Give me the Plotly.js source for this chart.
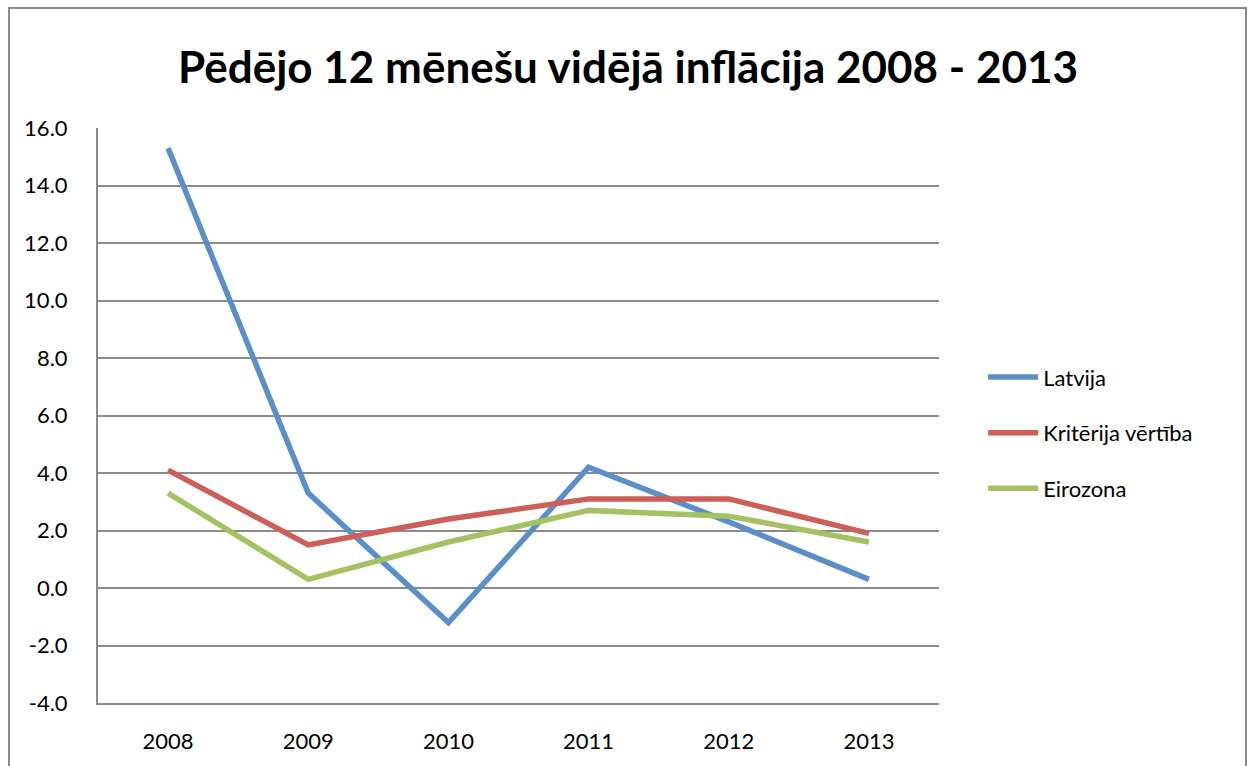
<!DOCTYPE html>
<html>
<head>
<meta charset="utf-8">
<script src="https://cdn.plot.ly/plotly-3.0.1.min.js"></script>
<style>
html,body{margin:0;padding:0;background:#fff;overflow:hidden;}
#wrap{position:relative;width:1251px;height:766px;}
#chart{width:1251px;height:766px;}
#frame{position:absolute;left:8px;top:7px;width:1235px;height:800px;border:2px solid #8c8c8c;pointer-events:none;}
</style>
</head>
<body>
<div id="wrap"><div id="chart"></div><div id="frame"></div></div>
<script>
const years = ['2008','2009','2010','2011','2012','2013'];
const latvija = [15.3, 3.3, -1.2, 4.2, 2.3, 0.3];
const kriterija = [4.1, 1.5, 2.4, 3.1, 3.1, 1.9];
const eirozona = [3.3, 0.3, 1.6, 2.7, 2.5, 1.6];
const seriesNames = ['Latvija', 'Kritērija vērtība', 'Eirozona'];
const colors = ['#5A8FC9', '#CD5F58', '#A5C262'];
const yTickVals = [-4, -2, 0, 2, 4, 6, 8, 10, 12, 14, 16];
const yTickLabels = ['-4.0', '-2.0', '0.0', '2.0', '4.0', '6.0', '8.0', '10.0', '12.0', '14.0', '16.0'];

const allSeries = [latvija, kriterija, eirozona];
const traces = allSeries.map((vals, i) => ({
  type: 'scatter', mode: 'lines', x: years, y: vals, name: seriesNames[i],
  line: {color: colors[i], width: 5.5}, legendgroup: 'g' + i
}));

const font = "Lato, 'Open Sans', sans-serif";
const layout = {
  width: 1251, height: 766,
  margin: {l: 98, r: 312, t: 128, b: 63},
  paper_bgcolor: '#fff', plot_bgcolor: '#fff',
  font: {family: font, size: 22, color: '#000'},
  title: {text: '<b>Pēdējo 12 mēnešu vidējā inflācija 2008 - 2013</b>', font: {family: font, size: 44, color: '#000'},
          x: 0.502, xref: 'container', xanchor: 'center', y: 1 - 68/766, yref: 'container', yanchor: 'middle'},
  xaxis: {type: 'category', range: [-0.5, 5.5], showgrid: false, showline: true, linecolor: '#8c8c8c', linewidth: 2,
          ticks: 'outside', ticklen: 18, tickcolor: 'rgba(0,0,0,0)', tickfont: {family: font, size: 22}, zeroline: false},
  yaxis: {range: [-4, 16], tickmode: 'array', tickvals: yTickVals, ticktext: yTickLabels, showgrid: true, gridcolor: '#8c8c8c', gridwidth: 2,
          showline: true, linecolor: '#8c8c8c', linewidth: 2, zeroline: false,
          ticks: 'outside', ticklen: 24, tickcolor: 'rgba(0,0,0,0)', tickfont: {family: font, size: 22}},
  showlegend: true,
  legend: {x: 1.0525, xanchor: 'left', y: 0.47, yanchor: 'middle', font: {family: font, size: 22}, traceorder: 'grouped', tracegroupgap: 24,
           itemwidth: 50, bgcolor: 'rgba(0,0,0,0)'}
};
Plotly.newPlot('chart', traces, layout, {staticPlot: true});
</script>
</body>
</html>
